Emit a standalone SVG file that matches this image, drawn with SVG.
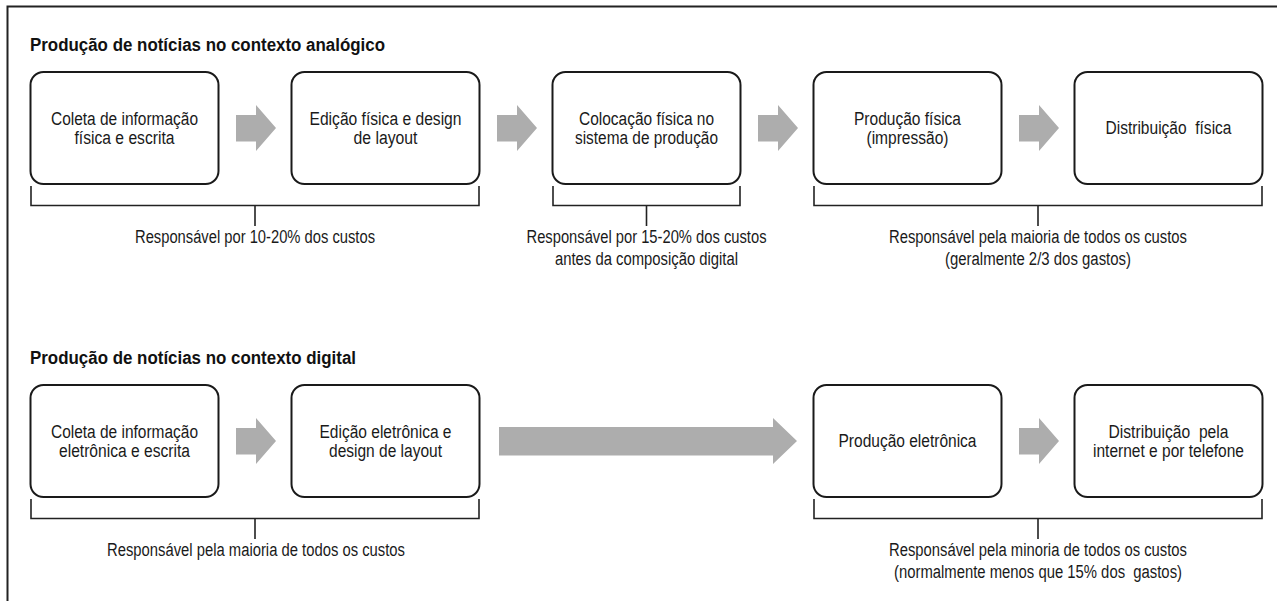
<svg xmlns="http://www.w3.org/2000/svg" xmlns:xlink="http://www.w3.org/1999/xlink" width="1277" height="601" viewBox="0 0 1277 601">
  <style>
    .frame { fill: none; stroke: #222; stroke-width: 2; }
    .box { fill: #fff; stroke: #1a1a1a; stroke-width: 2; }
    .brace { fill: none; stroke: #222; stroke-width: 1.6; }
    .flow { fill: #adadad; stroke: none; }
    .title { font-family: "Liberation Sans", Arial, sans-serif; font-size: 17.5px; font-weight: bold; fill: #111; }
    .t { font-family: "Liberation Sans", Arial, sans-serif; font-size: 18px; fill: #1a1a1a; text-anchor: middle; }
  </style>
  <defs>
    <path id="arrow-s" d="M0,-13 H20 V-23 L40,0 L20,23 V13.5 H0 Z"/>
  </defs>

  <rect width="1277" height="601" fill="#fff"/>

  <!-- outer frame: top and left rules -->
  <path class="frame" d="M7.5,601 V6.5 H1277"/>

  <!-- section headings -->
  <text class="title" x="30" y="51" textLength="355" lengthAdjust="spacingAndGlyphs">Produção de notícias no contexto analógico</text>
  <text class="title" x="30" y="364" textLength="326" lengthAdjust="spacingAndGlyphs">Produção de notícias no contexto digital</text>

  <!-- analog chain -->
  <g id="a-coleta">
    <rect class="box" x="30.5" y="72" width="188" height="112" rx="13"/>
    <text class="t" x="124.5" y="124.5" textLength="147" lengthAdjust="spacingAndGlyphs">Coleta de informação</text>
    <text class="t" x="124.5" y="143.5" textLength="100" lengthAdjust="spacingAndGlyphs">física e escrita</text>
  </g>
  <g id="a-edicao">
    <rect class="box" x="291.5" y="72" width="188" height="112" rx="13"/>
    <text class="t" x="385.5" y="124.5" textLength="152" lengthAdjust="spacingAndGlyphs">Edição física e design</text>
    <text class="t" x="385.5" y="143.5" textLength="64" lengthAdjust="spacingAndGlyphs">de layout</text>
  </g>
  <g id="a-colocacao">
    <rect class="box" x="552.5" y="72" width="188" height="112" rx="13"/>
    <text class="t" x="646.5" y="124.5" textLength="135" lengthAdjust="spacingAndGlyphs">Colocação física no</text>
    <text class="t" x="646.5" y="143.5" textLength="143" lengthAdjust="spacingAndGlyphs">sistema de produção</text>
  </g>
  <g id="a-producao">
    <rect class="box" x="813.5" y="72" width="188" height="112" rx="13"/>
    <text class="t" x="907.5" y="124.5" textLength="107" lengthAdjust="spacingAndGlyphs">Produção física</text>
    <text class="t" x="907.5" y="143.5" textLength="82" lengthAdjust="spacingAndGlyphs">(impressão)</text>
  </g>
  <g id="a-distribuicao">
    <rect class="box" x="1074.5" y="72" width="188" height="112" rx="13"/>
    <text class="t" x="1168.5" y="134" textLength="126" lengthAdjust="spacingAndGlyphs" xml:space="preserve">Distribuição  física</text>
  </g>

  <!-- digital chain -->
  <g id="d-coleta">
    <rect class="box" x="30.5" y="385" width="188" height="112" rx="13"/>
    <text class="t" x="124.5" y="437.5" textLength="147" lengthAdjust="spacingAndGlyphs">Coleta de informação</text>
    <text class="t" x="124.5" y="456.5" textLength="131" lengthAdjust="spacingAndGlyphs">eletrônica e escrita</text>
  </g>
  <g id="d-edicao">
    <rect class="box" x="291.5" y="385" width="188" height="112" rx="13"/>
    <text class="t" x="385.5" y="437.5" textLength="132" lengthAdjust="spacingAndGlyphs">Edição eletrônica e</text>
    <text class="t" x="385.5" y="456.5" textLength="113" lengthAdjust="spacingAndGlyphs">design de layout</text>
  </g>
  <g id="d-producao">
    <rect class="box" x="813.5" y="385" width="188" height="112" rx="13"/>
    <text class="t" x="907.5" y="447" textLength="138" lengthAdjust="spacingAndGlyphs">Produção eletrônica</text>
  </g>
  <g id="d-distribuicao">
    <rect class="box" x="1074.5" y="385" width="188" height="112" rx="13"/>
    <text class="t" x="1168.5" y="437.5" textLength="120" lengthAdjust="spacingAndGlyphs" xml:space="preserve">Distribuição  pela</text>
    <text class="t" x="1168.5" y="456.5" textLength="151" lengthAdjust="spacingAndGlyphs">internet e por telefone</text>
  </g>

  <!-- flow arrows between stages -->
  <g id="connectors" class="flow">
    <use xlink:href="#arrow-s" x="236" y="128"/>
    <use xlink:href="#arrow-s" x="497" y="128"/>
    <use xlink:href="#arrow-s" x="758" y="128"/>
    <use xlink:href="#arrow-s" x="1019" y="128"/>
    <use xlink:href="#arrow-s" x="236" y="441"/>
    <path d="M499,427 H773 V418 L797,441 L773,464 V455.5 H499 Z"/>
    <use xlink:href="#arrow-s" x="1019" y="441"/>
  </g>

  <!-- cost brackets -->
  <g id="cost-a1">
    <path class="brace" d="M31,186 V205.5 H479 V186 M255,205.5 V226"/>
    <text class="t" x="255" y="243" textLength="240" lengthAdjust="spacingAndGlyphs">Responsável por 10-20% dos custos</text>
  </g>
  <g id="cost-a2">
    <path class="brace" d="M553,186 V205.5 H740 V186 M646.5,205.5 V226"/>
    <text class="t" x="646.5" y="243" textLength="240" lengthAdjust="spacingAndGlyphs">Responsável por 15-20% dos custos</text>
    <text class="t" x="646.5" y="264.5" textLength="183" lengthAdjust="spacingAndGlyphs">antes da composição digital</text>
  </g>
  <g id="cost-a3">
    <path class="brace" d="M814,186 V205.5 H1262 V186 M1038,205.5 V226"/>
    <text class="t" x="1038" y="243" textLength="298" lengthAdjust="spacingAndGlyphs">Responsável pela maioria de todos os custos</text>
    <text class="t" x="1038" y="264.5" textLength="186" lengthAdjust="spacingAndGlyphs">(geralmente 2/3 dos gastos)</text>
  </g>
  <g id="cost-d1">
    <path class="brace" d="M31,499 V518.5 H479 V499 M255,518.5 V539"/>
    <text class="t" x="256" y="556" textLength="298" lengthAdjust="spacingAndGlyphs">Responsável pela maioria de todos os custos</text>
  </g>
  <g id="cost-d2">
    <path class="brace" d="M814,499 V518.5 H1262 V499 M1038,518.5 V539"/>
    <text class="t" x="1038" y="556" textLength="298" lengthAdjust="spacingAndGlyphs">Responsável pela minoria de todos os custos</text>
    <text class="t" x="1038" y="577.5" textLength="288" lengthAdjust="spacingAndGlyphs" xml:space="preserve">(normalmente menos que 15% dos  gastos)</text>
  </g>
</svg>
